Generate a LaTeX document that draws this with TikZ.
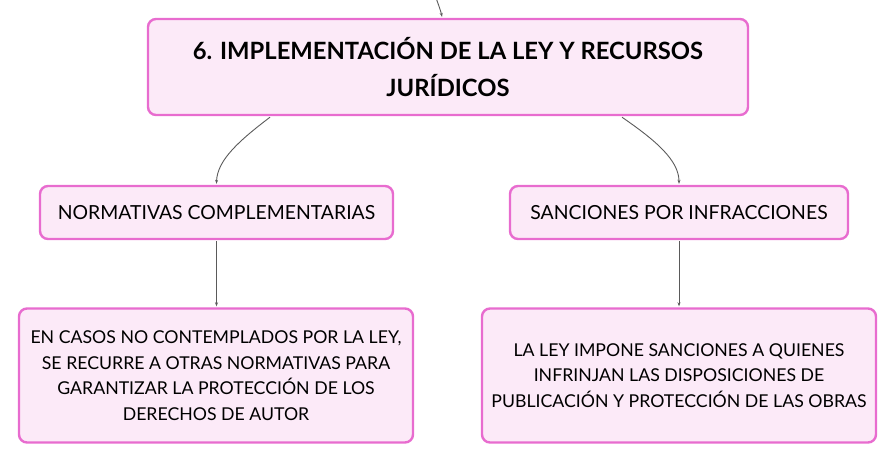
\documentclass[tikz,border=0pt]{standalone}
\usepackage{fontspec}
\setmainfont{Lato}
\usetikzlibrary{arrows.meta}
\definecolor{pinkborder}{HTML}{E86CCF}
\definecolor{pinkfill}{HTML}{FCEAF8}
\definecolor{linkgray}{HTML}{5A5A5A}
\tikzset{
  box/.style={draw=pinkborder, fill=pinkfill, line width=2.4pt, rounded corners=8pt,
    inner sep=0pt, align=center, text=black},
  titlebox/.style={box, font=\fontsize{23.8}{37}\selectfont\bfseries},
  midbox/.style={box, font=\fontsize{19.4}{25.5}\selectfont},
  bodybox/.style={box, font=\fontsize{17.7}{25.5}\selectfont},
  link/.style={draw=linkgray, line width=0.9pt, -{Stealth[length=4pt,width=3pt]}},
}
\begin{document}
\begin{tikzpicture}[x=1pt,y=-1pt]
\useasboundingbox (0,0) rectangle (896,464);
\node[titlebox, minimum width=600pt, minimum height=96pt] (top) at (448,67)
  {6. IMPLEMENTACIÓN DE LA LEY Y RECURSOS\\JURÍDICOS};
\node[midbox, minimum width=353pt, minimum height=53pt] (nc) at (216.5,212.5)
  {NORMATIVAS COMPLEMENTARIAS};
\node[midbox, minimum width=338pt, minimum height=53pt] (spi) at (679,212.5)
  {SANCIONES POR INFRACCIONES};
\node[bodybox, minimum width=394pt, minimum height=134pt] (b1) at (216,375.5)
  {EN CASOS NO CONTEMPLADOS POR LA LEY,\\SE RECURRE A OTRAS NORMATIVAS PARA\\GARANTIZAR LA PROTECCIÓN DE LOS\\DERECHOS DE AUTOR};
\node[bodybox, minimum width=394pt, minimum height=134pt] (b2) at (679,375.5)
  {LA LEY IMPONE SANCIONES A QUIENES\\INFRINJAN LAS DISPOSICIONES DE\\PUBLICACIÓN Y PROTECCIÓN DE LAS OBRAS};
\coordinate (in) at (436,-2);
\draw[link] (in) .. controls (439,6) and (441,12) .. ([xshift=-6pt,yshift=1pt]top.north);
\draw[link] ([xshift=-178pt,yshift=-1pt]top.south) .. controls (240,140) and (217,160) .. ([yshift=1pt]nc.north);
\draw[link] ([xshift=174pt,yshift=-1pt]top.south) .. controls (655,140) and (679,160) .. ([yshift=1pt]spi.north);
\draw[link] ([yshift=-1pt]nc.south) -- ([yshift=1pt]b1.north -| nc.south);
\draw[link] ([yshift=-1pt]spi.south) -- ([yshift=1pt]b2.north -| spi.south);
\end{tikzpicture}
\end{document}
